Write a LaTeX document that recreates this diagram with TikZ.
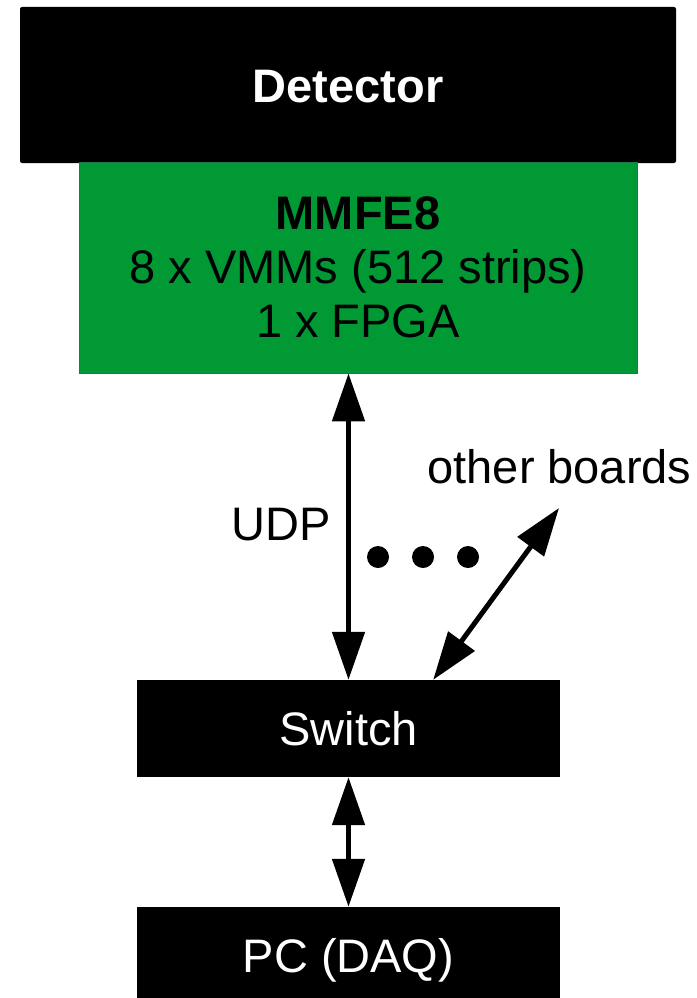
\documentclass[tikz,border=0pt]{standalone}
\usepackage{fontspec}
\setmainfont{Liberation Sans}
\usetikzlibrary{arrows.meta,calc}
\definecolor{boardgreen}{HTML}{009933}
\definecolor{boardedge}{HTML}{1A7A55}
\begin{document}
\begin{tikzpicture}[x=1pt,y=-1pt,
  bigfont/.style={font=\fontsize{47}{54}\selectfont},
  blackbox/.style={fill=black, draw=none, inner sep=0pt, text=white, bigfont,
    text height=34pt, text depth=0pt},
  greenbox/.style={fill=boardgreen, draw=boardedge, line width=0.8pt, inner sep=0pt,
    align=center, bigfont, text=black},
  biarrow/.style={line width=5pt, {Triangle[length=48pt,width=32pt]}-{Triangle[length=48pt,width=32pt]}},
  dotmark/.style={fill=black, draw=none, circle, minimum size=22pt, inner sep=0pt},
  plainlabel/.style={bigfont, inner sep=0pt, anchor=base}
]
\useasboundingbox (0,0) rectangle (696,998);
\fill[white] (0,0) rectangle (696,998);

\node[blackbox, rounded corners=2pt, minimum width=656pt, minimum height=156pt] (det) at (348,85)
  {\textbf{Detector}};
\node[greenbox, minimum width=558pt, minimum height=211pt] (mm) at (358,267.5)
  {\textbf{MMFE8}\\8 x VMMs (512 strips)\\1 x FPGA};
\node[blackbox, minimum width=423pt, minimum height=97pt] (sw) at (348.5,728.5) {Switch};
\node[blackbox, minimum width=423pt, minimum height=97pt] (pc) at (348.5,955.5) {PC (DAQ)};

\node[plainlabel] (udp) at (281.5,540) {UDP};
\node[plainlabel] (other) at (559.5,483) {other boards};

\node[dotmark] (d1) at (378,557) {};
\node[dotmark] (d2) at (423,557) {};
\node[dotmark] (d3) at (468,557) {};

\coordinate (swtap) at ($(sw.north west)!0.70!(sw.north east)$);
\coordinate (obend) at (559,508);

\draw[biarrow] (mm.south -| sw.north) -- (sw.north);
\draw[biarrow] (sw.south) -- (pc.north);
\draw[biarrow] (swtap) -- (obend);
\end{tikzpicture}
\end{document}
